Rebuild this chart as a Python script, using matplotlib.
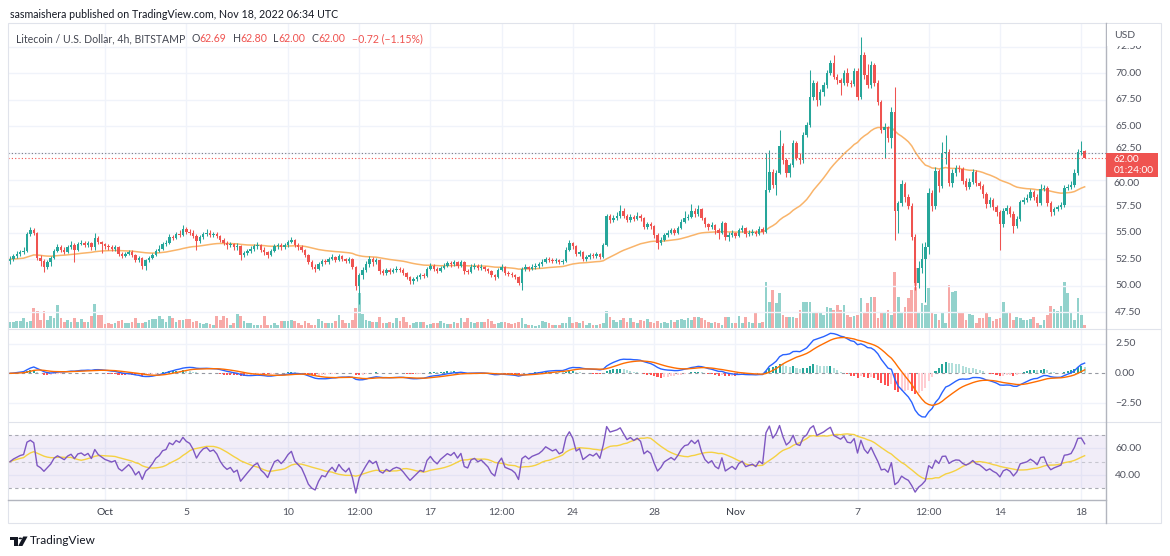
import numpy as np
import pandas as pd
import matplotlib
matplotlib.use("Agg")
import matplotlib.pyplot as plt
from matplotlib.patches import Rectangle, Polygon, Circle
from matplotlib.lines import Line2D

# LTC/USD 4h candles (BITSTAMP)
start_time = "2022-09-26 08:00"
first_open = 52.3
closes = [
    52.5, 52.8, 53.0, 53.2, 53.3, 54.9, 55.2, 55.0, 52.6, 52.3,
    51.8, 52.2, 52.6, 53.3, 53.6, 53.4, 53.2, 53.6, 53.8, 53.4,
    53.9, 54.0, 53.8, 54.0, 53.6, 54.5, 54.1, 53.9, 53.7, 53.6,
    53.5, 53.6, 53.0, 52.8, 53.0, 53.2, 52.9, 52.4, 52.6, 51.9,
    52.4, 52.6, 52.9, 53.3, 53.5, 53.9, 54.0, 54.6, 54.5, 54.9,
    54.8, 55.3, 55.1, 55.0, 54.7, 54.2, 54.6, 54.9, 55.0, 54.8,
    54.9, 54.7, 54.3, 54.0, 53.8, 53.9, 53.6, 53.7, 52.9, 53.1,
    53.3, 53.5, 53.7, 53.8, 53.4, 53.2, 52.9, 53.3, 53.7, 53.8,
    53.6, 53.8, 54.1, 54.3, 53.8, 53.6, 53.4, 52.9, 52.2, 51.8,
    51.6, 52.0, 52.3, 52.2, 52.5, 52.7, 52.4, 52.8, 52.5, 52.3,
    52.5, 51.8, 50.0, 51.0, 51.5, 52.0, 52.5, 52.2, 52.4, 51.4,
    51.2, 51.5, 51.3, 51.5, 51.6, 51.5, 51.2, 50.8, 50.4, 50.6,
    50.8, 51.0, 50.9, 51.6, 51.9, 51.6, 51.4, 51.7, 51.9, 52.1,
    52.0, 52.2, 51.9, 52.2, 51.4, 51.3, 51.8, 51.9, 51.7, 51.8,
    51.6, 51.4, 51.0, 50.8, 51.5, 51.8, 51.2, 51.1, 51.0, 50.8,
    50.3, 51.6, 51.8, 51.6, 51.8, 51.9, 52.0, 52.2, 52.5, 52.4,
    52.3, 52.4, 52.2, 52.3, 53.4, 54.0, 53.7, 53.0, 53.2, 52.5,
    52.7, 52.9, 52.8, 53.0, 52.7, 53.8, 56.6, 56.2, 56.4, 56.6,
    57.0, 56.6, 56.2, 56.5, 56.3, 56.6, 56.4, 55.5, 55.8, 55.6,
    54.8, 54.0, 54.3, 54.8, 55.0, 55.2, 55.0, 55.4, 56.0, 56.4,
    56.5, 57.0, 56.8, 57.2, 56.4, 55.8, 55.5, 55.7, 55.2, 55.0,
    55.9, 54.6, 54.8, 55.0, 54.7, 55.2, 55.4, 54.9, 55.0, 55.1,
    54.9, 55.3, 55.1, 59.0, 60.7, 59.5, 60.6, 63.2, 61.8, 60.6,
    61.4, 63.4, 62.0, 61.8, 64.2, 65.1, 67.8, 69.1, 67.5, 68.2,
    68.9, 70.0, 71.0, 69.7, 69.4, 69.1, 70.0, 69.1, 69.0, 70.2,
    67.8, 71.7, 69.8, 68.9, 70.8, 69.1, 67.3, 64.7, 64.9, 63.9,
    66.4, 57.0, 57.8, 59.6, 58.4, 57.5, 54.6, 50.3, 51.7, 52.5,
    53.6, 58.7, 57.5, 60.8, 59.4, 62.5, 62.6, 59.7, 60.6, 61.1,
    61.0, 59.9, 59.3, 59.8, 60.7, 59.7, 59.4, 58.6, 57.7, 58.1,
    57.4, 56.9, 55.8, 57.0, 57.3, 56.8, 55.6, 56.3, 57.9, 58.1,
    58.3, 58.8, 58.4, 57.8, 59.1, 59.2, 57.8, 56.9, 57.2, 57.4,
    57.6, 59.2, 59.3, 59.5, 60.6, 62.6, 62.69, 62.00,
]
highs = [
    52.8, 53.0, 53.3, 53.4, 53.6, 55.1, 55.5, 55.4, 55.1, 52.9,
    52.5, 52.4, 52.8, 53.5, 53.9, 53.8, 53.6, 53.8, 54.2, 54.0,
    54.1, 54.3, 54.2, 54.2, 54.1, 55.0, 54.7, 54.2, 54.0, 53.9,
    53.8, 53.8, 53.7, 53.2, 53.2, 53.4, 53.4, 53.0, 52.8, 52.7,
    52.5, 52.8, 53.1, 53.5, 53.8, 54.1, 54.3, 54.9, 54.8, 55.1,
    55.2, 55.7, 55.5, 55.3, 55.2, 54.9, 54.8, 55.1, 55.3, 55.2,
    55.1, 55.1, 54.8, 54.5, 54.2, 54.1, 54.0, 54.0, 53.8, 53.3,
    53.5, 53.7, 53.9, 54.1, 53.9, 53.6, 53.3, 53.5, 53.9, 54.0,
    54.0, 54.0, 54.3, 54.6, 54.4, 54.0, 53.8, 53.5, 53.0, 52.4,
    52.0, 52.2, 52.5, 52.5, 52.7, 53.0, 52.8, 53.0, 52.9, 52.6,
    52.7, 52.6, 51.9, 51.2, 51.8, 52.3, 52.8, 52.7, 52.6, 52.5,
    51.6, 51.7, 51.7, 51.7, 51.9, 51.8, 51.7, 51.3, 50.9, 50.8,
    51.0, 51.2, 51.2, 51.8, 52.1, 52.0, 51.8, 51.9, 52.1, 52.3,
    52.3, 52.4, 52.3, 52.4, 52.3, 51.6, 52.0, 52.1, 52.0, 52.0,
    51.9, 51.7, 51.5, 51.1, 51.7, 52.0, 51.9, 51.4, 51.3, 51.1,
    50.9, 51.8, 52.0, 51.9, 52.0, 52.1, 52.2, 52.5, 52.7, 52.7,
    52.6, 52.6, 52.5, 52.5, 53.6, 54.3, 54.1, 53.8, 53.4, 53.3,
    52.9, 53.1, 53.1, 53.2, 53.1, 54.0, 56.8, 56.8, 56.7, 56.9,
    57.6, 57.3, 56.8, 56.8, 56.7, 56.9, 56.8, 56.5, 56.0, 56.0,
    55.7, 55.0, 54.6, 55.0, 55.2, 55.4, 55.4, 55.6, 56.3, 57.0,
    56.8, 57.7, 57.3, 57.6, 57.3, 56.5, 55.9, 56.0, 55.8, 55.4,
    56.1, 56.0, 55.1, 55.2, 55.1, 55.4, 55.7, 55.5, 55.2, 55.3,
    55.2, 55.6, 55.5, 62.5, 62.8, 61.0, 60.9, 64.7, 63.4, 62.0,
    61.6, 63.7, 63.6, 62.5, 64.5, 65.4, 70.3, 69.4, 69.3, 68.5,
    69.2, 70.3, 71.3, 71.7, 69.9, 69.6, 70.3, 70.5, 69.4, 70.5,
    70.5, 73.4, 72.0, 70.9, 71.2, 71.0, 69.4, 67.5, 65.3, 65.0,
    66.8, 68.7, 58.0, 60.0, 59.8, 58.6, 57.8, 54.9, 52.3, 54.0,
    54.1, 59.2, 59.0, 61.2, 61.0, 63.5, 64.2, 62.9, 61.0, 61.4,
    61.4, 61.2, 60.1, 60.1, 61.0, 60.9, 59.9, 59.6, 58.8, 58.4,
    58.3, 57.6, 57.1, 57.3, 57.6, 57.5, 57.0, 56.6, 58.1, 58.4,
    58.6, 59.1, 59.0, 58.6, 59.6, 59.5, 59.4, 58.0, 57.4, 57.6,
    57.9, 59.5, 59.6, 59.9, 61.0, 62.9, 63.6, 62.80,
]
lows = [
    52.0, 52.3, 52.6, 52.8, 53.0, 53.2, 54.7, 54.8, 52.4, 51.9,
    51.3, 51.6, 51.9, 52.5, 53.2, 53.2, 53.0, 53.1, 53.5, 52.2,
    53.3, 53.8, 53.6, 53.6, 53.4, 53.4, 53.9, 53.1, 53.5, 53.4,
    53.3, 53.3, 52.8, 52.6, 52.7, 52.9, 52.7, 52.2, 52.2, 51.6,
    51.5, 52.2, 52.5, 52.8, 53.2, 53.4, 53.7, 53.9, 54.3, 54.4,
    54.6, 54.7, 54.9, 54.8, 54.5, 53.4, 54.0, 54.4, 54.7, 54.6,
    54.6, 54.5, 54.1, 53.8, 53.5, 53.6, 53.4, 53.4, 52.4, 52.7,
    52.9, 53.1, 53.3, 53.5, 53.2, 52.9, 52.6, 52.8, 53.2, 53.5,
    53.4, 53.5, 53.6, 54.0, 53.6, 53.4, 53.2, 52.7, 52.0, 51.6,
    51.3, 51.5, 51.9, 52.0, 52.0, 52.4, 52.2, 52.3, 52.3, 52.1,
    52.1, 51.6, 49.6, 48.3, 50.6, 51.3, 51.8, 51.9, 52.0, 51.1,
    51.0, 51.0, 51.1, 51.2, 51.3, 51.3, 51.0, 50.6, 50.2, 50.2,
    50.4, 50.6, 50.7, 50.8, 51.5, 51.4, 51.2, 51.3, 51.6, 51.8,
    51.8, 51.9, 51.7, 51.8, 51.1, 51.1, 51.2, 51.6, 51.5, 51.5,
    51.4, 51.2, 50.8, 50.5, 50.7, 51.4, 51.0, 50.9, 50.8, 50.6,
    50.1, 49.6, 51.4, 51.4, 51.5, 51.6, 51.7, 51.9, 52.1, 52.2,
    52.1, 52.1, 52.0, 52.0, 52.2, 53.3, 53.5, 52.8, 52.8, 52.3,
    52.3, 52.5, 52.6, 52.6, 52.5, 52.6, 53.7, 55.9, 56.0, 56.2,
    56.4, 56.4, 56.0, 56.0, 56.1, 56.2, 56.1, 55.3, 55.3, 55.3,
    54.5, 53.5, 53.8, 54.2, 54.6, 54.9, 54.8, 54.9, 55.3, 55.9,
    56.2, 56.4, 56.5, 56.6, 56.2, 55.5, 55.2, 55.3, 54.9, 54.4,
    54.9, 54.3, 54.2, 54.6, 54.5, 54.6, 55.1, 54.6, 54.7, 54.8,
    54.7, 54.8, 54.9, 55.0, 58.8, 59.2, 58.5, 60.5, 61.5, 60.2,
    60.2, 61.2, 61.8, 61.5, 61.6, 64.0, 64.9, 67.5, 66.9, 67.0,
    67.9, 68.6, 69.8, 69.5, 69.0, 68.0, 68.9, 68.8, 68.7, 68.8,
    67.5, 67.6, 69.5, 68.6, 68.6, 68.8, 67.0, 64.4, 62.0, 63.5,
    63.0, 54.3, 55.0, 57.5, 57.9, 57.2, 54.3, 49.6, 49.8, 51.2,
    48.5, 53.0, 57.0, 57.2, 58.8, 59.2, 61.5, 59.4, 59.3, 60.3,
    60.7, 59.6, 59.0, 59.1, 59.6, 59.4, 59.1, 58.3, 57.3, 57.4,
    57.1, 56.6, 53.4, 55.5, 56.8, 56.5, 55.0, 55.4, 56.1, 57.7,
    57.9, 58.1, 58.1, 57.5, 57.6, 58.9, 57.5, 56.6, 56.7, 57.0,
    57.2, 57.4, 59.0, 59.1, 59.3, 60.4, 62.3, 62.00,
]
# thousands of LTC
volumes = [
    6, 6, 7, 7, 10, 6, 7, 20, 17, 8,
    17, 8, 12, 10, 23, 10, 6, 8, 6, 10,
    6, 9, 6, 6, 12, 24, 13, 13, 4, 5,
    4, 5, 7, 8, 5, 5, 6, 10, 5, 5,
    6, 8, 9, 9, 12, 9, 6, 12, 10, 6,
    8, 8, 9, 9, 6, 7, 5, 4, 5, 4,
    3, 12, 8, 12, 10, 3, 5, 14, 12, 7,
    5, 5, 3, 3, 3, 12, 3, 3, 5, 3,
    7, 7, 7, 8, 7, 5, 3, 7, 5, 3,
    3, 9, 7, 5, 5, 5, 7, 13, 8, 5,
    5, 8, 20, 35, 14, 8, 7, 6, 6, 11,
    5, 5, 6, 5, 10, 7, 11, 6, 3, 5,
    6, 6, 6, 3, 4, 5, 5, 7, 5, 4,
    4, 6, 5, 10, 6, 10, 6, 5, 6, 6,
    6, 9, 7, 4, 5, 6, 6, 5, 4, 5,
    6, 10, 4, 3, 3, 2, 3, 7, 6, 5,
    3, 3, 3, 5, 5, 11, 5, 6, 5, 7,
    3, 5, 3, 3, 4, 5, 17, 11, 8, 6,
    8, 10, 6, 10, 6, 5, 8, 7, 9, 6,
    5, 7, 5, 6, 5, 8, 6, 8, 9, 8,
    10, 8, 11, 11, 10, 8, 6, 5, 6, 5,
    3, 11, 11, 5, 5, 12, 5, 11, 6, 5,
    15, 5, 6, 46, 26, 38, 25, 35, 13, 11,
    11, 11, 10, 18, 26, 26, 26, 15, 15, 15,
    13, 21, 20, 18, 23, 18, 23, 13, 11, 12,
    13, 30, 16, 25, 31, 31, 10, 16, 16, 18,
    13, 56, 31, 15, 21, 30, 38, 60, 15, 25,
    23, 40, 15, 14, 8, 15, 5, 43, 36, 37,
    15, 15, 8, 14, 13, 5, 10, 10, 15, 11,
    7, 9, 10, 26, 15, 16, 8, 11, 10, 8,
    8, 9, 11, 5, 3, 8, 13, 22, 19, 17,
    22, 46, 35, 15, 8, 30, 13, 3,
]

price_ticks = [47.5, 50.0, 52.5, 55.0, 57.5, 60.0, 62.5, 65.0, 67.5, 70.0, 72.5]
macd_ticks = [2.5, 0.0, -2.5]
rsi_ticks = [60, 40]
time_labels = ["Oct", "5", "10", "12:00", "17", "12:00", "24", "28", "Nov", "7", "12:00", "14", "18"]
time_stamps = ["2022-10-01 00:00", "2022-10-05 00:00", "2022-10-10 00:00", "2022-10-13 12:00",
               "2022-10-17 00:00", "2022-10-20 12:00", "2022-10-24 00:00", "2022-10-28 00:00",
               "2022-11-01 00:00", "2022-11-07 00:00", "2022-11-10 12:00", "2022-11-14 00:00",
               "2022-11-18 00:00"]
last_price = 62.00
prev_close_line = 62.46

FONT = ["Lato", "DejaVu Sans"]
plt.rcParams["font.family"] = FONT
UP, DN = "#26a69a", "#ef5350"
VUP, VDN = "#92d2cc", "#f7a9a7"
GRID = "#f0f3fa"
TXT = "#50535e"
LINE = "#b2b5be"
SEP = "#e0e3eb"

W, H = 1170, 556
fig = plt.figure(figsize=(W / 100, H / 100), dpi=100)
fig.patch.set_facecolor("white")


def rect(x0, y0, x1, y1):
    return [x0 / W, 1 - y1 / H, (x1 - x0) / W, (y1 - y0) / H]


def fx(px):
    return px / W


def fy(py):
    return 1 - py / H


L, R = 8, 1106
ax_v = fig.add_axes(rect(L, 23, R, 330))
ax_p = fig.add_axes(rect(L, 23, R, 330), sharex=ax_v)
ax_m = fig.add_axes(rect(L, 330, R, 422), sharex=ax_v)
ax_r = fig.add_axes(rect(L, 422, R, 500), sharex=ax_v)
ax_p.patch.set_alpha(0)

for a in (ax_v, ax_p, ax_m, ax_r):
    for s in a.spines.values():
        s.set_visible(False)
    a.tick_params(left=False, bottom=False, labelleft=False, labelbottom=False)

c = np.array(closes)
hi = np.array(highs)
lo = np.array(lows)
vol = np.array(volumes, float)
o = np.r_[first_open, c[:-1]]
n = len(c)
x = np.arange(n)
up = c >= o

t0 = pd.Timestamp(start_time)
tick_pos = (pd.to_datetime(time_stamps) - t0) / pd.Timedelta(hours=4)
tick_pos = np.asarray(tick_pos, float)

ax_v.set_xlim(-0.6, 323.3)
ax_v.set_ylim(-2, 305)
ax_p.set_ylim(45.83, 74.74)
ax_m.set_ylim(-4.09, 3.64)
ax_r.set_ylim(21.3, 79.7)

# grid
for a in (ax_v, ax_m, ax_r):
    for p in tick_pos:
        a.axvline(p, color=GRID, lw=1, zorder=0)
for p in price_ticks:
    ax_p.axhline(p, color=GRID, lw=1, zorder=0)
for p in (2.5, -2.5):
    ax_m.axhline(p, color=GRID, lw=1, zorder=0)
for p in rsi_ticks:
    ax_r.axhline(p, color=GRID, lw=1, zorder=0)

# volume
ax_v.bar(x, vol, width=0.8, color=np.where(up, VUP, VDN), lw=0, zorder=1)

# moving average on price
ema = pd.Series(c).ewm(span=45, adjust=False).mean()
ax_p.plot(x, ema, color="#f9b46a", lw=1.1, zorder=2)

# candles
col = np.where(up, UP, DN)
ax_p.vlines(x, lo, hi, colors=col, lw=0.75, zorder=3)
body_lo = np.minimum(o, c)
body_h = np.maximum(np.abs(c - o), 0.06)
ax_p.bar(x, body_h, bottom=body_lo, width=0.72, color=col, lw=0, zorder=4)

ax_p.axhline(prev_close_line, color="#787b86", lw=0.8, ls=(0, (1, 2)), zorder=5)
ax_p.axhline(last_price, color=DN, lw=0.8, ls=(0, (1, 2)), zorder=5)

# MACD 12/26/9
cs = pd.Series(c)
macd = cs.ewm(span=12, adjust=False).mean() - cs.ewm(span=26, adjust=False).mean()
signal = macd.ewm(span=9, adjust=False).mean()
hist = (macd - signal).to_numpy()
prev = np.r_[hist[0], hist[:-1]]
hcol = np.where(hist >= 0, np.where(hist >= prev, "#26a69a", "#b2dfdb"),
                np.where(hist <= prev, "#ff5252", "#ffcdd2"))
ax_m.axhline(0, color="#9598a1", lw=0.8, ls=(0, (3, 3)), zorder=1)
ax_m.bar(x, hist, width=0.6, color=hcol, lw=0, zorder=2)
ax_m.plot(x, macd, color="#2962ff", lw=1, zorder=3)
ax_m.plot(x, signal, color="#ff6d00", lw=1, zorder=3)

# RSI 14 with 14 MA
d = cs.diff().fillna(0).to_numpy()
seed = np.abs(d[1:15]).mean() / 2
ag, al = [seed], [seed]
for dv in d[1:]:
    ag.append((ag[-1] * 13 + max(dv, 0)) / 14)
    al.append((al[-1] * 13 + max(-dv, 0)) / 14)
ag, al = np.array(ag), np.array(al)
rsi = 100 - 100 / (1 + ag / al)
rsi_ma = pd.Series(rsi).rolling(14, min_periods=1).mean()
ax_r.axhspan(30, 70, color="#7e57c2", alpha=0.1, lw=0, zorder=0)
for lv, al_ in ((70, 0.8), (50, 0.45), (30, 0.8)):
    ax_r.axhline(lv, color="#9598a1", lw=0.8, ls=(0, (3, 3)), alpha=al_, zorder=1)
ax_r.plot(x, rsi, color="#7e57c2", lw=1, zorder=3)
ax_r.plot(x, rsi_ma, color="#f5d142", lw=1, zorder=2)

# right scale labels (the two next to the last-price tag are placed around it)
for a, ticks in ((ax_p, price_ticks), (ax_m, macd_ticks), (ax_r, rsi_ticks)):
    for p in ticks:
        if a is ax_p and abs(p - last_price) < 2.6:
            continue
        a.text(1.0082, p, f"{p:.2f}".replace("-", "\u2212"), transform=a.get_yaxis_transform(),
               ha="left", va="center", fontsize=7.5, color=TXT, clip_on=False)

# time labels
for p, lab in zip(tick_pos, time_labels):
    ax_r.text(p, -0.162, lab, transform=ax_r.get_xaxis_transform(), ha="center", va="center",
              fontsize=7.5, color="#363a45" if lab in ("Oct", "Nov") else TXT, clip_on=False)

# frame lines
def hline(y, x0, x1, color, lw=1.0):
    fig.add_artist(Line2D([fx(x0), fx(x1)], [fy(y), fy(y)], color=color, lw=lw))


def vline(xp, y0, y1, color, lw=1.0):
    fig.add_artist(Line2D([fx(xp), fx(xp)], [fy(y0), fy(y1)], color=color, lw=lw))


fig.add_artist(Rectangle((fx(L), fy(523)), fx(1161 - L), (523 - 23) / H, fill=False,
                         ec=SEP, lw=0.8, transform=fig.transFigure))
hline(328.5, L, 1161, SEP, 0.8)
hline(421.5, L, 1161, SEP, 0.8)
hline(500, L, 1106, LINE, 1.0)
vline(1106, 23, 523, LINE, 1.0)

# USD header over the top label
fig.add_artist(Rectangle((fx(1107), fy(46)), fx(52), 22 / H, color="white", lw=0,
                         transform=fig.transFigure, zorder=5))
fig.text(fx(1114), fy(36), "USD", fontsize=7.5, color=TXT, va="center", zorder=6)

# last price tag with the 62.50 and 60.00 labels squeezed around it
ax_p.text(1.0082, 62.5, "62.50", transform=ax_p.get_yaxis_transform(), ha="left",
          va="bottom", fontsize=7.5, color=TXT, clip_on=False)
fig.add_artist(Rectangle((fx(1106), fy(177.3)), fx(52), 24.6 / H, color=DN, lw=0,
                         transform=fig.transFigure, zorder=5))
fig.text(fx(1114), fy(159.8), f"{last_price:.2f}", fontsize=7.3, color="white", va="center", zorder=6)
fig.text(fx(1114), fy(170.8), "01:24:00", fontsize=7.3, color="white", va="center", zorder=6)
fig.text(fx(1114), fy(179.5), "60.00", fontsize=7.5, color=TXT, va="top")

# header and legend
renderer = fig.canvas.get_renderer()


def put(xp, yp, s, color, size):
    t = fig.text(fx(xp), fy(yp), s, color=color, fontsize=size, va="center", ha="left")
    return xp + t.get_window_extent(renderer).width


put(10, 14.5, "sasmaishera published on TradingView.com, Nov 18, 2022 06:34 UTC", "#131722", 7.7)

xp = put(16, 39, "Litecoin / U.S. Dollar, 4h, BITSTAMP", "#434651", 7.6)
for key, val in (("O", "62.69"), ("H", "62.80"), ("L", "62.00"), ("C", "62.00")):
    xp = put(xp + 6, 39, key, "#434651", 7.6)
    xp = put(xp, 39, val, DN, 7.6)
put(xp + 6, 39, "\u22120.72 (\u22121.15%)", DN, 7.6)

# TradingView logo
ink = "#131722"
fig.add_artist(Polygon([(fx(10), fy(536.5)), (fx(17.5), fy(536.5)), (fx(17.5), fy(546)),
                        (fx(13.8), fy(546)), (fx(13.8), fy(540)), (fx(10), fy(540))],
                       closed=True, color=ink, lw=0, transform=fig.transFigure))
fig.add_artist(Circle((fx(20.3), fy(538.4)), 1.8 / W, color=ink, lw=0, transform=fig.transFigure))
fig.add_artist(Polygon([(fx(23.2), fy(536.5)), (fx(27.6), fy(536.5)), (fx(22.4), fy(546)),
                        (fx(18.2), fy(546))], closed=True, color=ink, lw=0, transform=fig.transFigure))
fig.text(fx(30), fy(541), "TradingView", fontsize=8.5, color=ink, va="center")

fig.savefig("out.png", dpi=100)
